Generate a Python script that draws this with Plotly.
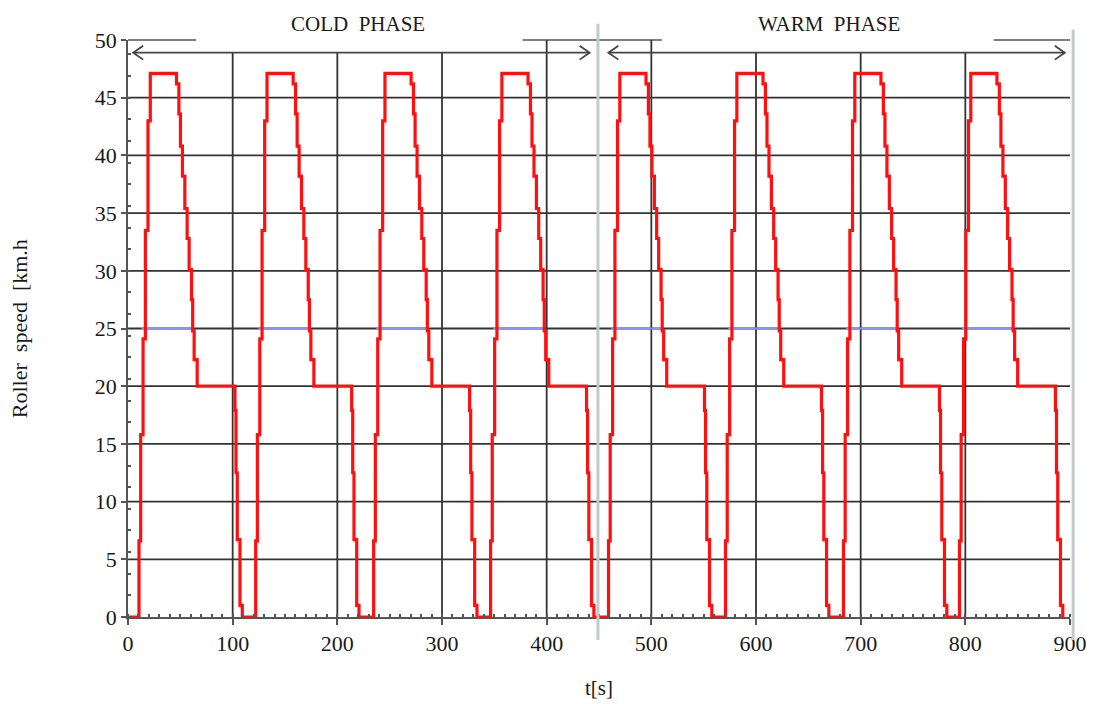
import plotly.graph_objects as go

# ---- data ----
# one driving cycle: time offsets (s) from the start of the cycle and the speed reached (km/h)
profile_dt = [0.0, 1.6, 3.9, 6.1, 8.6, 10.8,
              35.8, 38.1, 39.6, 41.5, 43.8, 46.0, 47.9, 50.2, 51.3, 52.7, 55.6,
              91.7, 92.7, 93.9, 96.5, 98.7]
profile_v = [6.6, 15.8, 24.1, 33.5, 43.0, 47.1,
             46.2, 43.6, 40.8, 38.2, 35.4, 32.8, 30.1, 27.5, 24.8, 22.3, 20.0,
             17.9, 12.5, 6.7, 1.0, 0.0]
# start time of each of the 8 cycles (s)
cycle_start = [10.5, 122.0, 234.7, 346.4, 459.1, 570.9, 683.6, 794.4]
end_time = 894.0
# 25 km/h marker (blue) offsets within each cycle
blue_on, blue_off, blue_level = 2.5, 52.0, 25.0

x_ticks = [0, 100, 200, 300, 400, 500, 600, 700, 800, 900]
y_ticks = [0, 5, 10, 15, 20, 25, 30, 35, 40, 45, 50]
grid_y = [5, 10, 15, 20, 25, 30, 35, 40, 45]
grid_x = [100, 200, 300, 400, 500, 600, 700, 800]
grid_x_top = [48.9, 48.9, 48.9, 50, 50, 48.9, 48.9, 48.9]
top_segments = [(0, 65), (377, 510), (827, 900)]
phase_names = ["COLD\u00a0\u00a0PHASE", "WARM\u00a0\u00a0PHASE"]
phase_label_x = [220, 670]
phase_arrows = [(5, 441), (459, 895)]
arrow_y = 48.9
phase_divider = 449
phase_end = 903

# ---- build series ----
t = [0.0]
v = [0.0]
for r in cycle_start:
    for dt, val in zip(profile_dt, profile_v):
        t.append(r + dt)
        v.append(val)
t.append(end_time)
v.append(0.0)

bx, by = [], []
for r in cycle_start:
    bx += [r + blue_on, r + blue_off, None]
    by += [blue_level, blue_level, None]

fig = go.Figure()
fig.add_trace(go.Scatter(x=bx, y=by, mode="lines",
                         line=dict(color="#8a96f2", width=2), hoverinfo="skip"))
fig.add_trace(go.Scatter(x=t, y=v, mode="lines", line_shape="hv",
                         line=dict(color="#ff1010", width=3.2)))

GRID = "#333333"
shapes = []
for gy in grid_y:
    shapes.append(dict(type="line", xref="x", yref="y", x0=0, x1=900, y0=gy, y1=gy,
                       line=dict(color=GRID, width=1.8), layer="below"))
for gx, top in zip(grid_x, grid_x_top):
    shapes.append(dict(type="line", xref="x", yref="y", x0=gx, x1=gx, y0=0, y1=top,
                       line=dict(color=GRID, width=1.8), layer="below"))
for a, b in top_segments:
    shapes.append(dict(type="line", xref="x", yref="paper", x0=a, x1=b, y0=1, y1=1,
                       line=dict(color="#555555", width=1.5), layer="below"))
# arrows
hx, hy = 9.5, 0.6
for a, b in phase_arrows:
    shapes.append(dict(type="line", xref="x", yref="y", x0=a, x1=b, y0=arrow_y, y1=arrow_y,
                       line=dict(color="#444444", width=1.8)))
    shapes.append(dict(type="path", xref="x", yref="y",
                       path=f"M {a+hx},{arrow_y+hy} L {a},{arrow_y} L {a+hx},{arrow_y-hy}",
                       line=dict(color="#444444", width=1.8)))
    shapes.append(dict(type="path", xref="x", yref="y",
                       path=f"M {b-hx},{arrow_y+hy} L {b},{arrow_y} L {b-hx},{arrow_y-hy}",
                       line=dict(color="#444444", width=1.8)))
# phase divider lines (light grey)
shapes.append(dict(type="line", xref="x", yref="paper", x0=phase_divider, x1=phase_divider,
                   y0=-0.04, y1=1.028, line=dict(color="#c3caca", width=3)))
shapes.append(dict(type="line", xref="x domain", yref="paper", x0=phase_end / 900, x1=phase_end / 900,
                   y0=-0.04, y1=1.018, line=dict(color="#c3caca", width=3)))

annotations = []
for name, px in zip(phase_names, phase_label_x):
    annotations.append(dict(text=name, x=px, xref="x", y=1.028, yref="paper",
                            showarrow=False, xanchor="center", yanchor="middle",
                            font=dict(size=21, color="#1a1a1a")))
annotations.append(dict(text="t[s]", x=0.5, xref="paper", y=-0.123, yref="paper",
                        showarrow=False, xanchor="center", yanchor="middle",
                        font=dict(size=21, color="#1a1a1a")))
annotations.append(dict(text="Roller\u00a0 speed\u00a0 [km.h", x=-0.115, xref="paper", y=0.5, yref="paper",
                        showarrow=False, textangle=-90, xanchor="center", yanchor="middle",
                        font=dict(size=22, color="#1a1a1a")))

AX = "#555555"
fig.update_layout(
    width=1094, height=704,
    margin=dict(l=120, r=32, t=32, b=95),
    plot_bgcolor="white", paper_bgcolor="white",
    showlegend=False,
    font=dict(family="Liberation Serif", color="#1a1a1a"),
    shapes=shapes, annotations=annotations,
    xaxis=dict(range=[0, 900], tickvals=x_ticks, showgrid=False, zeroline=False,
               showline=True, linecolor=AX, linewidth=1.5,
               ticks="outside", ticklen=6, tickcolor=AX, tickwidth=1.5,
               tickfont=dict(size=22),
               minor=dict(ticks="inside", ticklen=3, dtick=10, tickcolor=AX, tickwidth=1.5, showgrid=False)),
    yaxis=dict(range=[0, 50], tickvals=y_ticks, showgrid=False, zeroline=False,
               showline=True, linecolor=AX, linewidth=1.5,
               ticks="outside", ticklen=5, tickcolor=AX, tickwidth=1.5,
               tickfont=dict(size=22),
               minor=dict(ticks="inside", ticklen=3, dtick=1.875, tick0=0, tickcolor=AX, tickwidth=1.5, showgrid=False)),
)

fig.write_html("out.html")
